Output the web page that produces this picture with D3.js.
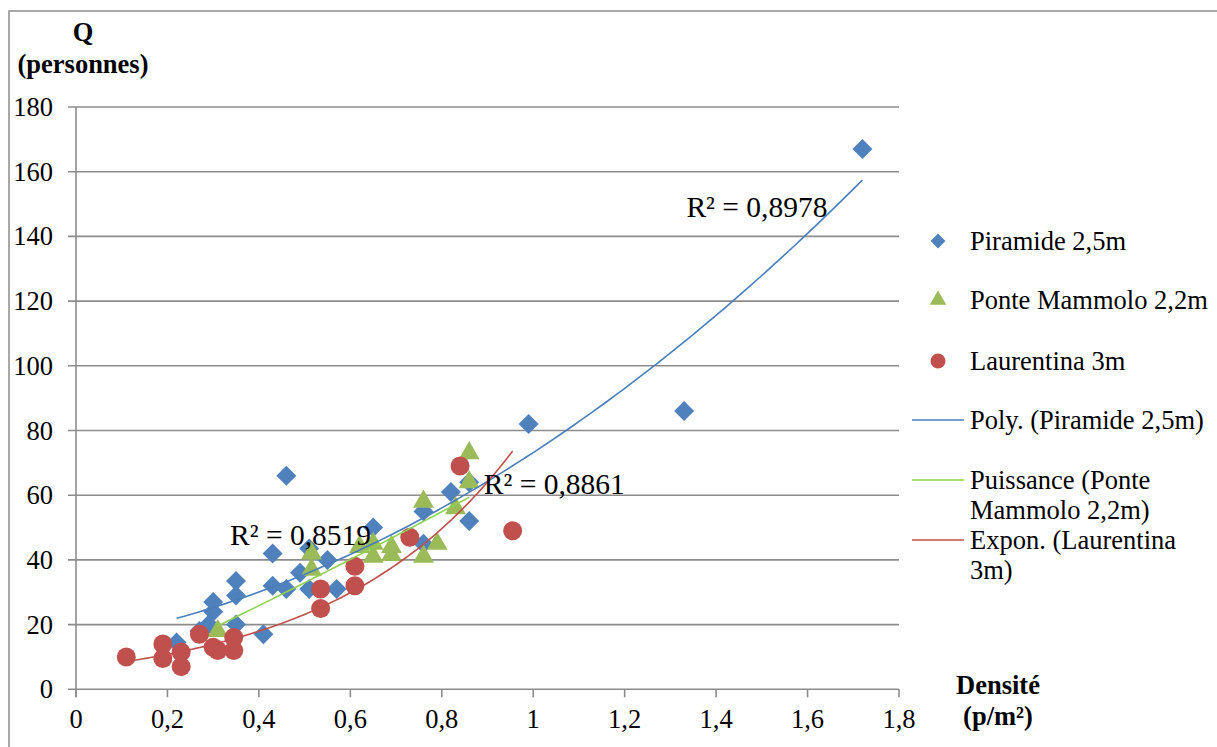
<!DOCTYPE html>
<html>
<head>
<meta charset="utf-8">
<script src="https://cdn.jsdelivr.net/npm/d3@7"></script>
<style>
  body { margin: 0; background: #fff; }
</style>
</head>
<body>
<svg id="chart" width="1217" height="747"></svg>
<script>
// densité (p/m²), Q (personnes)
const piramide = [
  [0.22, 14.5], [0.27, 18], [0.29, 20], [0.30, 24], [0.30, 27], [0.35, 20],
  [0.35, 29], [0.35, 33.5], [0.41, 17], [0.43, 32], [0.43, 42], [0.46, 31],
  [0.46, 66], [0.49, 36], [0.51, 31], [0.51, 43.5], [0.55, 40], [0.57, 31],
  [0.65, 50], [0.76, 45], [0.76, 55], [0.82, 61], [0.86, 52], [0.86, 64],
  [0.99, 82], [1.33, 86], [1.72, 167]
];

const ponte_mammolo = [
  [0.31, 18], [0.515, 42], [0.515, 37], [0.62, 44], [0.65, 45], [0.65, 41],
  [0.69, 44], [0.69, 41.5], [0.76, 58], [0.76, 41], [0.79, 45], [0.83, 56],
  [0.86, 64], [0.86, 73]
];

const laurentina = [
  [0.11, 10], [0.19, 14], [0.19, 9.5], [0.23, 11.5], [0.23, 7], [0.27, 17],
  [0.30, 13], [0.31, 12], [0.345, 16], [0.345, 12], [0.535, 31], [0.535, 25],
  [0.61, 38], [0.61, 32], [0.73, 47], [0.84, 69], [0.955, 49]
];

const ticks_x = [0, 0.2, 0.4, 0.6, 0.8, 1, 1.2, 1.4, 1.6, 1.8];
const ticks_y = [0, 20, 40, 60, 80, 100, 120, 140, 160, 180];

const r2_labels = [
  { text: "R² = 0,8978", d: 1.335, q: 146 },
  { text: "R² = 0,8861", d: 0.892, q: 60.4 },
  { text: "R² = 0,8519", d: 0.337, q: 44.6 }
];

const legend_items = [
  { label: ["Piramide 2,5m"], type: "diamond" },
  { label: ["Ponte Mammolo 2,2m"], type: "triangle" },
  { label: ["Laurentina 3m"], type: "circle" },
  { label: ["Poly. (Piramide 2,5m)"], type: "line", color: "#4A7EBB" },
  { label: ["Puissance (Ponte", "Mammolo 2,2m)"], type: "line", color: "#8FD14F" },
  { label: ["Expon. (Laurentina", "3m)"], type: "line", color: "#C0504D" }
];

// couleurs
const c_blue = "#4F81BD", c_green = "#9BBB59", c_red = "#C0504D";
const grid_color = "#8C8C8C";
const fsize = 26.5;

const svg = d3.select("#chart")
  .attr("font-family", "'Liberation Serif', Tinos, 'Times New Roman', 'DejaVu Serif', serif");

const x = d3.scaleLinear().domain([0, 1.8]).range([76, 899]);
const y = d3.scaleLinear().domain([0, 180]).range([689.3, 107]);

// cadre extérieur
svg.append("rect")
  .attr("x", 9).attr("y", 11)
  .attr("width", 1230).attr("height", 760)
  .attr("fill", "none")
  .attr("stroke", grid_color)
  .attr("stroke-width", 1.5);

// grille horizontale
svg.append("g")
  .selectAll("line")
  .data(ticks_y)
  .join("line")
    .attr("x1", x(0) - 8).attr("x2", x(1.8))
    .attr("y1", d => y(d)).attr("y2", d => y(d))
    .attr("stroke", grid_color)
    .attr("stroke-width", 1.6);

// axe vertical
svg.append("line")
  .attr("x1", x(0)).attr("x2", x(0))
  .attr("y1", y(180)).attr("y2", y(0) + 8)
  .attr("stroke", grid_color)
  .attr("stroke-width", 1.6);

// graduations x
svg.append("g")
  .selectAll("line")
  .data(ticks_x)
  .join("line")
    .attr("x1", d => x(d)).attr("x2", d => x(d))
    .attr("y1", y(0)).attr("y2", y(0) + 8)
    .attr("stroke", grid_color)
    .attr("stroke-width", 1.6);

const fmt = d => String(d).replace(".", ",");

svg.append("g")
  .selectAll("text")
  .data(ticks_y)
  .join("text")
    .attr("x", 53)
    .attr("y", d => y(d) + 9)
    .attr("text-anchor", "end")
    .attr("font-size", fsize)
    .text(d => d);

svg.append("g")
  .selectAll("text")
  .data(ticks_x)
  .join("text")
    .attr("x", d => x(d))
    .attr("y", 728)
    .attr("text-anchor", "middle")
    .attr("font-size", fsize)
    .text(fmt);

// titres des axes
svg.append("text").attr("x", 83).attr("y", 41).attr("text-anchor", "middle")
  .attr("font-size", fsize).attr("font-weight", "bold").text("Q");
svg.append("text").attr("x", 83).attr("y", 73).attr("text-anchor", "middle")
  .attr("font-size", fsize).attr("font-weight", "bold").text("(personnes)");
svg.append("text").attr("x", 998).attr("y", 694).attr("text-anchor", "middle")
  .attr("font-size", fsize).attr("font-weight", "bold").text("Densité");
svg.append("text").attr("x", 998).attr("y", 725).attr("text-anchor", "middle")
  .attr("font-size", fsize).attr("font-weight", "bold").text("(p/m²)");

// symboles
const sym_diamond = d3.symbol().type(d3.symbolSquare).size(200);
const sym_triangle = d3.symbol().type(d3.symbolTriangle).size(190);

function draw_markers(data, type, color) {
  let g = svg.append("g");
  if (type == "circle") {
    g.selectAll("circle")
      .data(data)
      .join("circle")
        .attr("cx", d => x(d[0]))
        .attr("cy", d => y(d[1]))
        .attr("r", 9.5)
        .attr("fill", color);
  } else {
    let sym = type == "diamond" ? sym_diamond : sym_triangle;
    g.selectAll("path")
      .data(data)
      .join("path")
        .attr("d", sym)
        .attr("transform", d => "translate(" + x(d[0]) + "," + y(d[1]) + ")" + (type == "diamond" ? " rotate(45)" : ""))
        .attr("fill", color);
  }
}

draw_markers(piramide, "diamond", c_blue);
draw_markers(ponte_mammolo, "triangle", c_green);
draw_markers(laurentina, "circle", c_red);

// courbes de tendance (moindres carrés)
function fit_poly2(data) {
  let s = [0, 0, 0, 0, 0], t = [0, 0, 0];
  data.forEach(([u, v]) => {
    for (let k = 0; k < 5; k++) s[k] += Math.pow(u, k);
    for (let k = 0; k < 3; k++) t[k] += v * Math.pow(u, k);
  });
  // systeme 3x3 : [c, b, a]
  let m = [[s[0], s[1], s[2], t[0]], [s[1], s[2], s[3], t[1]], [s[2], s[3], s[4], t[2]]];
  for (let i = 0; i < 3; i++) {
    for (let j = i + 1; j < 3; j++) {
      let f = m[j][i] / m[i][i];
      for (let k = i; k < 4; k++) m[j][k] -= f * m[i][k];
    }
  }
  let r = [0, 0, 0];
  for (let i = 2; i >= 0; i--) {
    let acc = m[i][3];
    for (let k = i + 1; k < 3; k++) acc -= m[i][k] * r[k];
    r[i] = acc / m[i][i];
  }
  return u => r[0] + r[1] * u + r[2] * u * u;
}

function fit_linear(pts) {
  let mx = d3.mean(pts, d => d[0]), my = d3.mean(pts, d => d[1]);
  let sxy = d3.sum(pts, d => (d[0] - mx) * (d[1] - my));
  let sxx = d3.sum(pts, d => (d[0] - mx) * (d[0] - mx));
  let b = sxy / sxx;
  return [my - b * mx, b];
}

function fit_power(data) {
  let [la, b] = fit_linear(data.map(d => [Math.log(d[0]), Math.log(d[1])]));
  return u => Math.exp(la) * Math.pow(u, b);
}

function fit_expon(data) {
  let [la, b] = fit_linear(data.map(d => [d[0], Math.log(d[1])]));
  return u => Math.exp(la) * Math.exp(b * u);
}

const line = d3.line().x(d => x(d[0])).y(d => y(d[1]));

function draw_trend(data, f, color) {
  let ext = d3.extent(data, d => d[0]);
  let pts = d3.range(0, 101).map(i => {
    let u = ext[0] + (ext[1] - ext[0]) * i / 100;
    return [u, f(u)];
  });
  svg.append("path")
    .attr("d", line(pts))
    .attr("fill", "none")
    .attr("stroke", color)
    .attr("stroke-width", 1.6);
}

draw_trend(piramide, fit_poly2(piramide), "#4A7EBB");
draw_trend(ponte_mammolo, fit_power(ponte_mammolo), "#8FD14F");
draw_trend(laurentina, fit_expon(laurentina), c_red);

// étiquettes R²
svg.append("g")
  .selectAll("text")
  .data(r2_labels)
  .join("text")
    .attr("x", d => x(d.d))
    .attr("y", d => y(d.q))
    .attr("font-size", 29.5)
    .text(d => d.text);

// légende
const leg_rows = [241, 300, 361, 420, 480, 540];
const leg = svg.append("g");

legend_items.forEach((item, i) => {
  let cy = leg_rows[i];
  if (item.type == "line") {
    leg.append("line")
      .attr("x1", 912).attr("x2", 964)
      .attr("y1", cy).attr("y2", cy)
      .attr("stroke", item.color)
      .attr("stroke-width", 1.6);
  } else if (item.type == "circle") {
    leg.append("circle").attr("cx", 938).attr("cy", cy).attr("r", 7.5).attr("fill", c_red);
  } else if (item.type == "diamond") {
    leg.append("path")
      .attr("d", d3.symbol().type(d3.symbolSquare).size(110))
      .attr("transform", "translate(938," + cy + ") rotate(45)")
      .attr("fill", c_blue);
  } else {
    leg.append("path")
      .attr("d", d3.symbol().type(d3.symbolTriangle).size(120))
      .attr("transform", "translate(938," + cy + ")")
      .attr("fill", c_green);
  }
  item.label.forEach((txt, k) => {
    leg.append("text")
      .attr("x", 970)
      .attr("y", cy + 9 + k * 30)
      .attr("font-size", fsize)
      .text(txt);
  });
});
</script>
</body>
</html>
